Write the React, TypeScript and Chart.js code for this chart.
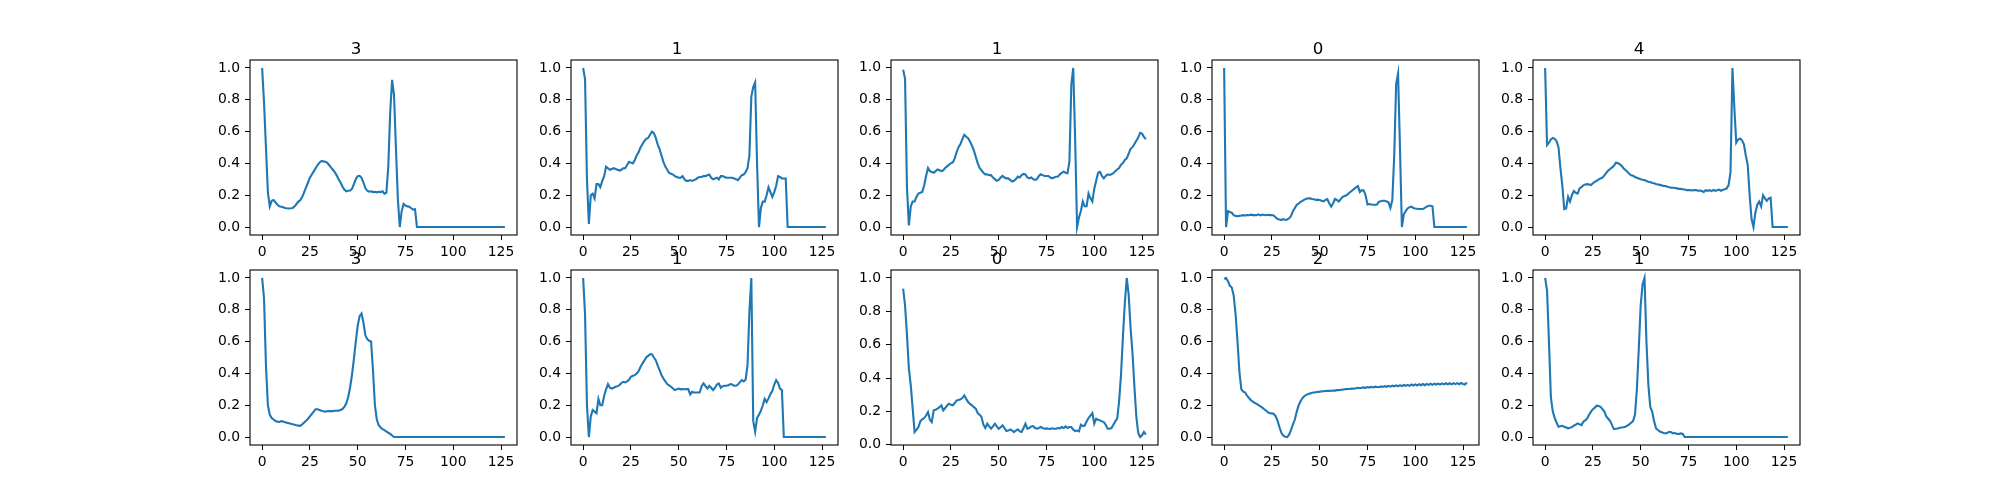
import { useEffect, useRef } from 'react';
import { Chart, registerables } from 'chart.js';

Chart.register(...registerables);

// one heartbeat per panel, 128 samples each (index 0..127)
const titles = ['3', '1', '1', '0', '4', '3', '1', '0', '2', '1'];

const beat0 = [
  1.0, 0.78, 0.5, 0.22, 0.13, 0.165, 0.17, 0.155, 0.14, 0.13,
  0.128, 0.125, 0.12, 0.118, 0.117, 0.118, 0.12, 0.13, 0.145, 0.16,
  0.17, 0.19, 0.22, 0.25, 0.28, 0.31, 0.33, 0.35, 0.37, 0.39,
  0.405, 0.415, 0.413, 0.41, 0.405, 0.39, 0.375, 0.36, 0.345, 0.325,
  0.3, 0.28, 0.255, 0.235, 0.225, 0.228, 0.23, 0.24, 0.27, 0.3,
  0.32, 0.322, 0.31, 0.28, 0.245, 0.228, 0.222, 0.225, 0.22, 0.222,
  0.218, 0.222, 0.22, 0.225, 0.21, 0.215, 0.38, 0.72, 0.925, 0.83,
  0.5, 0.18, 0.0, 0.1, 0.145, 0.135, 0.13, 0.128, 0.118, 0.11,
  0.112, 0, 0, 0, 0, 0, 0, 0, 0, 0,
  0, 0, 0, 0, 0, 0, 0, 0, 0, 0,
  0, 0, 0, 0, 0, 0, 0, 0, 0, 0,
  0, 0, 0, 0, 0, 0, 0, 0, 0, 0,
  0, 0, 0, 0, 0, 0, 0, 0,
];

const beat1 = [
  1.0, 0.93, 0.3, 0.02, 0.2, 0.21, 0.18, 0.27, 0.27, 0.25,
  0.29, 0.32, 0.38, 0.37, 0.36, 0.365, 0.37, 0.365, 0.36, 0.355,
  0.36, 0.37, 0.37, 0.39, 0.41, 0.405, 0.4, 0.42, 0.45, 0.47,
  0.5, 0.52, 0.54, 0.555, 0.56, 0.58, 0.6, 0.59, 0.56, 0.52,
  0.49, 0.45, 0.41, 0.38, 0.36, 0.34, 0.335, 0.33, 0.32, 0.315,
  0.31, 0.31, 0.32, 0.3, 0.29, 0.29, 0.295, 0.29, 0.295, 0.3,
  0.31, 0.315, 0.315, 0.32, 0.32, 0.325, 0.33, 0.31, 0.3, 0.305,
  0.31, 0.3, 0.32, 0.32, 0.315, 0.31, 0.31, 0.31, 0.31, 0.305,
  0.3, 0.295, 0.31, 0.326, 0.33, 0.345, 0.37, 0.45, 0.82, 0.88,
  0.91, 0.4, 0.0, 0.12, 0.16, 0.16, 0.2, 0.25, 0.22, 0.19,
  0.22, 0.26, 0.32, 0.315, 0.305, 0.305, 0.305, 0, 0, 0,
  0, 0, 0, 0, 0, 0, 0, 0, 0, 0,
  0, 0, 0, 0, 0, 0, 0, 0,
];

const beat2 = [
  0.985, 0.93, 0.25, 0.01, 0.13, 0.16, 0.16, 0.19, 0.21, 0.215,
  0.22, 0.26, 0.32, 0.37, 0.35, 0.345, 0.34, 0.35, 0.36, 0.355,
  0.35, 0.355, 0.37, 0.38, 0.39, 0.4, 0.405, 0.43, 0.47, 0.5,
  0.52, 0.55, 0.577, 0.565, 0.556, 0.535, 0.51, 0.48, 0.44, 0.4,
  0.37, 0.355, 0.34, 0.33, 0.33, 0.325, 0.325, 0.31, 0.3, 0.29,
  0.295, 0.31, 0.32, 0.31, 0.305, 0.305, 0.295, 0.285, 0.29, 0.3,
  0.316, 0.31, 0.325, 0.333, 0.33, 0.31, 0.305, 0.31, 0.3, 0.295,
  0.3, 0.32, 0.33, 0.325, 0.32, 0.32, 0.32, 0.31, 0.305, 0.31,
  0.315, 0.316, 0.33, 0.34, 0.347, 0.34, 0.337, 0.41, 0.89, 0.996,
  0.55, 0.0, 0.06, 0.1, 0.16, 0.13, 0.13, 0.21, 0.18, 0.16,
  0.24, 0.29, 0.34, 0.345, 0.32, 0.305, 0.32, 0.33, 0.326, 0.33,
  0.337, 0.35, 0.36, 0.37, 0.39, 0.4, 0.42, 0.43, 0.46, 0.49,
  0.5, 0.52, 0.54, 0.56, 0.59, 0.585, 0.565, 0.55,
];

const beat3 = [
  1.0, 0.0, 0.1, 0.095, 0.09, 0.075, 0.07, 0.068, 0.07, 0.072,
  0.075, 0.073, 0.075, 0.074, 0.078, 0.075, 0.076, 0.074, 0.08, 0.073,
  0.078, 0.076, 0.074, 0.077, 0.075, 0.076, 0.072, 0.06, 0.05, 0.048,
  0.044, 0.05, 0.045, 0.048, 0.055, 0.07, 0.1, 0.12, 0.14, 0.148,
  0.158, 0.165, 0.172, 0.178, 0.18, 0.18, 0.176, 0.175, 0.17, 0.172,
  0.17, 0.165, 0.162, 0.17, 0.175, 0.15, 0.128, 0.15, 0.176, 0.17,
  0.16, 0.175, 0.19, 0.195, 0.2, 0.21, 0.22, 0.23, 0.24, 0.25,
  0.257, 0.22, 0.232, 0.23, 0.2, 0.142, 0.145, 0.142, 0.14, 0.14,
  0.142, 0.16, 0.162, 0.165, 0.165, 0.16, 0.155, 0.12, 0.17, 0.45,
  0.9, 0.965, 0.5, 0.0, 0.08, 0.1, 0.117, 0.125, 0.128, 0.12,
  0.117, 0.115, 0.113, 0.113, 0.113, 0.12, 0.128, 0.134, 0.134, 0.13,
  0, 0, 0, 0, 0, 0, 0, 0, 0, 0,
  0, 0, 0, 0, 0, 0, 0, 0,
];

const beat4 = [
  1.0, 0.515, 0.53, 0.55, 0.56, 0.555, 0.54, 0.5, 0.37, 0.26,
  0.113, 0.117, 0.19, 0.16, 0.2, 0.226, 0.215, 0.21, 0.243, 0.25,
  0.262, 0.268, 0.27, 0.268, 0.264, 0.275, 0.285, 0.29, 0.3, 0.305,
  0.31, 0.325, 0.34, 0.355, 0.365, 0.375, 0.385, 0.404, 0.402, 0.395,
  0.385, 0.37, 0.358, 0.348, 0.335, 0.325, 0.322, 0.315, 0.31, 0.305,
  0.3, 0.297, 0.295, 0.29, 0.285, 0.283, 0.277, 0.275, 0.27, 0.268,
  0.265, 0.262, 0.258, 0.258, 0.253, 0.25, 0.248, 0.247, 0.245, 0.243,
  0.24, 0.24, 0.238, 0.236, 0.232, 0.233, 0.232, 0.23, 0.232, 0.232,
  0.228, 0.23, 0.226, 0.22, 0.232, 0.228, 0.232, 0.226, 0.233, 0.228,
  0.232, 0.235, 0.228, 0.234, 0.238, 0.243, 0.264, 0.347, 1.0, 0.75,
  0.53, 0.55, 0.556, 0.545, 0.52, 0.45, 0.39, 0.2, 0.05, 0.0,
  0.09, 0.14, 0.16, 0.13, 0.2, 0.18, 0.165, 0.18, 0.184, 0.0,
  0, 0, 0, 0, 0, 0, 0, 0,
];

const beat5 = [
  1.0, 0.87, 0.45, 0.2, 0.14, 0.12, 0.11, 0.1, 0.097, 0.095,
  0.1, 0.098, 0.093, 0.09, 0.087, 0.084, 0.08, 0.077, 0.074, 0.072,
  0.07, 0.08, 0.092, 0.103, 0.115, 0.13, 0.145, 0.16, 0.175, 0.175,
  0.17, 0.165, 0.162, 0.16, 0.162, 0.163, 0.163, 0.163, 0.165, 0.165,
  0.166, 0.17, 0.176, 0.19, 0.21, 0.25, 0.31, 0.39, 0.49, 0.6,
  0.7, 0.76, 0.776, 0.72, 0.64, 0.615, 0.605, 0.6, 0.42, 0.2,
  0.11, 0.075, 0.06, 0.05, 0.044, 0.035, 0.027, 0.02, 0.01, 0,
  0, 0, 0, 0, 0, 0, 0, 0, 0, 0,
  0, 0, 0, 0, 0, 0, 0, 0, 0, 0,
  0, 0, 0, 0, 0, 0, 0, 0, 0, 0,
  0, 0, 0, 0, 0, 0, 0, 0, 0, 0,
  0, 0, 0, 0, 0, 0, 0, 0, 0, 0,
  0, 0, 0, 0, 0, 0, 0, 0,
];

const beat6 = [
  1.0, 0.77, 0.2, 0.0, 0.13, 0.17, 0.16, 0.15, 0.24, 0.2,
  0.2, 0.26, 0.3, 0.333, 0.31, 0.305, 0.31, 0.316, 0.32, 0.326,
  0.34, 0.347, 0.343, 0.35, 0.36, 0.379, 0.385, 0.389, 0.4, 0.414,
  0.44, 0.462, 0.48, 0.5, 0.51, 0.52, 0.52, 0.5, 0.483, 0.45,
  0.42, 0.39, 0.368, 0.35, 0.333, 0.325, 0.316, 0.305, 0.295, 0.3,
  0.305, 0.3, 0.301, 0.3, 0.301, 0.301, 0.268, 0.285, 0.28, 0.28,
  0.28, 0.28, 0.32, 0.337, 0.32, 0.305, 0.322, 0.31, 0.295, 0.31,
  0.33, 0.337, 0.31, 0.32, 0.322, 0.322, 0.325, 0.333, 0.33, 0.322,
  0.322, 0.33, 0.345, 0.358, 0.35, 0.36, 0.45, 0.79, 1.0, 0.1,
  0.033, 0.12, 0.14, 0.165, 0.2, 0.24, 0.22, 0.243, 0.27, 0.29,
  0.33, 0.358, 0.34, 0.305, 0.295, 0, 0, 0, 0, 0,
  0, 0, 0, 0, 0, 0, 0, 0, 0, 0,
  0, 0, 0, 0, 0, 0, 0, 0,
];

const beat7 = [
  0.936, 0.836, 0.66, 0.456, 0.356, 0.216, 0.076, 0.09, 0.106, 0.14,
  0.152, 0.16, 0.175, 0.196, 0.15, 0.136, 0.206, 0.21, 0.216, 0.225,
  0.236, 0.206, 0.22, 0.235, 0.246, 0.24, 0.236, 0.25, 0.266, 0.268,
  0.272, 0.28, 0.296, 0.275, 0.256, 0.245, 0.236, 0.225, 0.216, 0.19,
  0.18, 0.166, 0.12, 0.1, 0.126, 0.11, 0.096, 0.11, 0.126, 0.11,
  0.096, 0.105, 0.116, 0.1, 0.082, 0.085, 0.092, 0.085, 0.076, 0.085,
  0.092, 0.08, 0.076, 0.1, 0.126, 0.096, 0.1, 0.11, 0.112, 0.1,
  0.096, 0.1, 0.106, 0.1, 0.096, 0.098, 0.096, 0.094, 0.098, 0.096,
  0.096, 0.1, 0.098, 0.106, 0.1, 0.11, 0.1, 0.106, 0.106, 0.09,
  0.082, 0.085, 0.08, 0.12, 0.112, 0.115, 0.14, 0.16, 0.175, 0.19,
  0.126, 0.156, 0.15, 0.146, 0.14, 0.136, 0.12, 0.096, 0.096, 0.1,
  0.12, 0.14, 0.156, 0.26, 0.42, 0.65, 0.85, 1.0, 0.9, 0.7,
  0.55, 0.35, 0.17, 0.07, 0.046, 0.056, 0.076, 0.06,
];

const beat8 = [
  0.995, 1.0, 0.98, 0.95, 0.94, 0.89, 0.77, 0.6, 0.41, 0.3,
  0.285, 0.28, 0.26, 0.245, 0.232, 0.222, 0.215, 0.208, 0.2, 0.193,
  0.185, 0.175, 0.165, 0.155, 0.15, 0.149, 0.145, 0.13, 0.1, 0.06,
  0.025, 0.008, 0.002, 0.0, 0.015, 0.045, 0.08, 0.11, 0.16, 0.2,
  0.225, 0.245, 0.258, 0.265, 0.27, 0.274, 0.278, 0.28, 0.282, 0.284,
  0.285, 0.287, 0.288, 0.289, 0.29, 0.29, 0.291, 0.293, 0.292, 0.295,
  0.295, 0.297, 0.298, 0.3, 0.301, 0.302, 0.303, 0.305, 0.304, 0.307,
  0.31, 0.307, 0.31, 0.312, 0.309, 0.314, 0.311, 0.316, 0.312, 0.317,
  0.315, 0.313, 0.318, 0.315, 0.32, 0.316, 0.322, 0.317, 0.323, 0.319,
  0.325, 0.319, 0.326, 0.32, 0.327, 0.322, 0.328, 0.322, 0.33, 0.324,
  0.331, 0.324, 0.332, 0.326, 0.333, 0.326, 0.334, 0.328, 0.335, 0.328,
  0.336, 0.33, 0.336, 0.33, 0.337, 0.331, 0.338, 0.332, 0.338, 0.331,
  0.339, 0.333, 0.339, 0.332, 0.34, 0.334, 0.33, 0.343,
];

const beat9 = [
  1.0, 0.92, 0.6, 0.25, 0.16, 0.12, 0.09, 0.065, 0.068, 0.071,
  0.065, 0.06, 0.055, 0.058, 0.062, 0.071, 0.078, 0.086, 0.08, 0.075,
  0.096, 0.105, 0.117, 0.14, 0.16, 0.175, 0.185, 0.197, 0.195, 0.19,
  0.175, 0.16, 0.13, 0.115, 0.1, 0.075, 0.05, 0.052, 0.054, 0.058,
  0.06, 0.062, 0.065, 0.072, 0.08, 0.09, 0.1, 0.14, 0.3, 0.556,
  0.83, 0.96, 1.0, 0.6, 0.33, 0.19, 0.16, 0.1, 0.055, 0.044,
  0.035, 0.03, 0.025, 0.023, 0.027, 0.033, 0.03, 0.023, 0.025, 0.02,
  0.019, 0.023, 0.02, 0, 0, 0, 0, 0, 0, 0,
  0, 0, 0, 0, 0, 0, 0, 0, 0, 0,
  0, 0, 0, 0, 0, 0, 0, 0, 0, 0,
  0, 0, 0, 0, 0, 0, 0, 0, 0, 0,
  0, 0, 0, 0, 0, 0, 0, 0, 0, 0,
  0, 0, 0, 0, 0, 0, 0, 0,
];

const beats = [beat0, beat1, beat2, beat3, beat4, beat5, beat6, beat7, beat8, beat9];
const xTicks = [0, 25, 50, 75, 100, 125];
const yTicks = [0, 0.2, 0.4, 0.6, 0.8, 1.0];

// matplotlib-like subplot grid in a 2000x500 figure
const AX_W = 267;
const AX_H = 175;
const COL_STEP = 320.69;
const ROW_TOPS = [60, 270];
const PAD_L = 55;
const PAD_T = 30;
const PAD_B = 35;
const PAD_R = 25;

const framePlugin = {
  id: 'frame',
  afterDraw(chart: Chart) {
    const { ctx, chartArea } = chart;
    ctx.save();
    ctx.strokeStyle = '#000';
    ctx.lineWidth = 1.1;
    ctx.strokeRect(chartArea.left, chartArea.top, chartArea.right - chartArea.left, chartArea.bottom - chartArea.top);
    ctx.restore();
  },
};

function Panel({ idx }: { idx: number }) {
  const canvasRef = useRef<HTMLCanvasElement>(null);
  const chartRef = useRef<Chart | null>(null);
  const values = beats[idx];
  const col = idx % 5;
  const row = Math.floor(idx / 5);
  const left = Math.round(250 + col * COL_STEP) - PAD_L;
  const top = ROW_TOPS[row] - PAD_T;
  const w = PAD_L + AX_W + PAD_R;
  const h = PAD_T + AX_H + PAD_B;

  useEffect(() => {
    if (!canvasRef.current) return;
    if (chartRef.current) chartRef.current.destroy();

    const lo = Math.min(...values);
    const hi = Math.max(...values);
    const span = hi - lo;

    chartRef.current = new Chart(canvasRef.current, {
      type: 'line',
      data: {
        datasets: [{
          data: values.map((v, i) => ({ x: i, y: v })),
          borderColor: '#1f77b4',
          borderWidth: 2.1,
          pointRadius: 0,
          tension: 0,
          fill: false,
        }],
      },
      options: {
        responsive: false,
        animation: false,
        devicePixelRatio: 1,
        layout: { padding: { left: 0, right: PAD_R, top: 0, bottom: 0 } },
        plugins: {
          legend: { display: false },
          tooltip: { enabled: false },
          title: {
            display: true,
            text: titles[idx],
            color: '#000',
            font: { family: 'DejaVu Sans', size: 16.67, weight: 'normal', lineHeight: 1.2 },
            padding: { top: 10, bottom: 0 },
          },
        },
        scales: {
          x: {
            type: 'linear',
            min: -6.35,
            max: 133.35,
            afterBuildTicks: (scale: any) => {
              scale.ticks = xTicks.map((v) => ({ value: v }));
            },
            afterFit: (scale: any) => {
              scale.height = PAD_B;
            },
            grid: { drawOnChartArea: false, drawTicks: true, tickLength: 5, color: '#000', lineWidth: 1 },
            border: { display: false },
            ticks: {
              color: '#000',
              padding: 4,
              maxRotation: 0,
              autoSkip: false,
              font: { family: 'DejaVu Sans', size: 13.9 },
              callback: (v: any) => String(v),
            },
          },
          y: {
            type: 'linear',
            min: lo - 0.05 * span,
            max: hi + 0.05 * span,
            afterBuildTicks: (scale: any) => {
              scale.ticks = yTicks.filter((v) => v >= scale.min && v <= scale.max).map((v) => ({ value: v }));
            },
            afterFit: (scale: any) => {
              scale.width = PAD_L;
            },
            grid: { drawOnChartArea: false, drawTicks: true, tickLength: 5, color: '#000', lineWidth: 1 },
            border: { display: false },
            ticks: {
              color: '#000',
              padding: 5,
              autoSkip: false,
              font: { family: 'DejaVu Sans', size: 13.9 },
              callback: (v: any) => Number(v).toFixed(1),
            },
          },
        },
      },
      plugins: [framePlugin],
    });

    return () => chartRef.current?.destroy();
  }, [values]);

  return (
    <canvas
      ref={canvasRef}
      width={w}
      height={h}
      style={{ position: 'absolute', left, top, width: w, height: h }}
    />
  );
}

export default function App() {
  return (
    <div style={{ position: 'absolute', left: 0, top: 0, width: 2000, height: 500, background: '#fff' }}>
      {beats.map((_, i) => (
        <Panel key={i} idx={i} />
      ))}
    </div>
  );
}
